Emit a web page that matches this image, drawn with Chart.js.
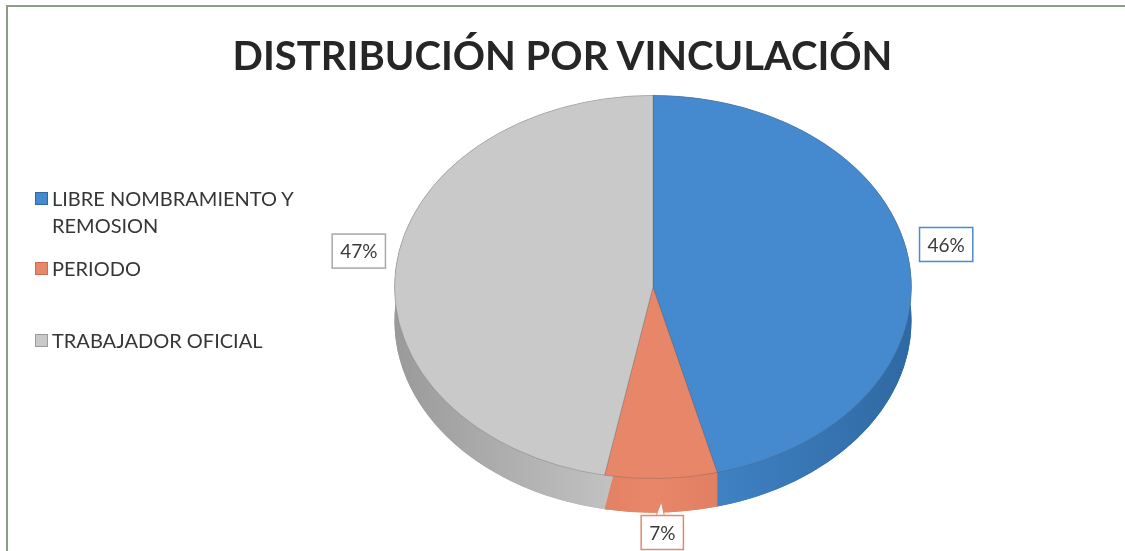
<!DOCTYPE html>
<html>
<head>
<meta charset="utf-8">
<script src="https://cdn.jsdelivr.net/npm/chart.js@4.4.1/dist/chart.umd.min.js"></script>
<style>
    body { margin: 0; background: #fff; }
    #wrap { position: relative; width: 1125px; height: 551px; overflow: hidden; background: #fff; }
    #frame { position: absolute; left: 6px; top: 5px; width: 1200px; height: 600px;
             border-top: 2px solid #909d86; border-left: 2px solid #909d86; }
    #title { position: absolute; left: 0; width: 1125px; top: 31px; text-align: center;
             font-family: Lato, sans-serif; font-weight: bold; font-size: 40px; color: #262626; }
    .legend-item { position: absolute; left: 35px; font-family: Lato, sans-serif; font-size: 20px;
                   color: #363636; line-height: 27px; }
    .legend-item .sw { position: absolute; left: 0; top: 7px; width: 13px; height: 13px; box-sizing: border-box; }
    .legend-item .txt { margin-left: 17px; width: 300px; }
    #chartBox { position: absolute; left: 0; top: 0; width: 1125px; height: 551px; }
</style>
</head>
<body>
<div id="wrap">
    <div id="frame"></div>
    <div id="chartBox"><canvas id="vinculacionChart"></canvas></div>
    <div id="title">DISTRIBUCIÓN POR VINCULACIÓN</div>
    <div id="legend"></div>
</div>
<script>
const categories = ['LIBRE NOMBRAMIENTO Y REMOSION', 'PERIODO', 'TRABAJADOR OFICIAL'];
const legendLines = [['LIBRE NOMBRAMIENTO Y', 'REMOSION'], ['PERIODO'], ['TRABAJADOR OFICIAL']];
const values = [46, 7, 47];
const percentLabels = ['46%', '7%', '47%'];
const topColors = ['#4589cf', '#e8866a', '#c9c9c9'];
const sideColors = ['#2f69a3', '#cf6c50', '#9a9a9a'];
const labelBorders = ['#4a8bd0', '#e08a6f', '#a8a8a8'];

// legend (html so the first label can wrap like the original)
const legendTops = [185, 255, 327];
const legendEl = document.getElementById('legend');
categories.forEach((cat, i) => {
    const item = document.createElement('div');
    item.className = 'legend-item';
    item.style.top = legendTops[i] + 'px';
    item.innerHTML = '<div class="sw" style="background:' + topColors[i] + ';border:1px solid ' + sideColors[i] + '"></div>' +
        '<div class="txt">' + legendLines[i].join('<br>') + '</div>';
    item.title = cat;
    legendEl.appendChild(item);
});

const TILT = 192 / 259;   // vertical squash of the pie
const DEPTH = 34;         // thickness of the pie side in px
const LABEL_LIFT = 16;    // labels sit a bit above the ellipse centre

const pie3d = {
    id: 'pie3d',
    beforeDatasetsDraw(chart) {
        const ctx = chart.ctx;
        const arcs = chart.getDatasetMeta(0).data;
        if (!arcs.length) return;
        const cx = arcs[0].x, cy = arcs[0].y, r = arcs[0].outerRadius;
        ctx.save();
        ctx.translate(cx, cy);
        ctx.scale(1, TILT);
        ctx.translate(-cx, -cy);
        const d = DEPTH / TILT;
        // side walls
        arcs.forEach((arc, i) => {
            const grad = ctx.createLinearGradient(cx - r, 0, cx + r, 0);
            grad.addColorStop(0, sideColors[i]);
            grad.addColorStop(0.5, topColors[i]);
            grad.addColorStop(1, sideColors[i]);
            ctx.fillStyle = grad;
            ctx.beginPath();
            ctx.moveTo(cx, cy + d);
            ctx.arc(cx, cy + d, r, arc.startAngle, arc.endAngle);
            ctx.closePath();
            ctx.fill();
            ctx.beginPath();
            ctx.arc(cx, cy, r, arc.startAngle, arc.endAngle);
            ctx.arc(cx, cy + d, r, arc.endAngle, arc.startAngle, true);
            ctx.closePath();
            ctx.fill();
        });
    },
    afterDatasetsDraw(chart) {
        const ctx = chart.ctx;
        ctx.restore();
        const arcs = chart.getDatasetMeta(0).data;
        ctx.save();
        ctx.font = '19px Lato, sans-serif';
        ctx.textAlign = 'center';
        ctx.textBaseline = 'middle';
        arcs.forEach((arc, i) => {
            const mid = (arc.startAngle + arc.endAngle) / 2;
            const cs = Math.cos(mid), sn = Math.sin(mid);
            const ry = arc.outerRadius * TILT;
            const x = arc.x + cs * (arc.outerRadius + 37);
            let y = arc.y + sn * (ry + 20) + Math.max(0, sn) * DEPTH;
            if (Math.abs(sn) < 0.5) y -= LABEL_LIFT;
            const w = ctx.measureText(percentLabels[i]).width + 16;
            const h = 34;
            if (sn > 0.9) {
                // small callout toward the slice
                ctx.fillStyle = '#fff';
                ctx.beginPath();
                ctx.moveTo(x - 6, y - h / 2);
                ctx.lineTo(x - 1, y - h / 2 - 14);
                ctx.lineTo(x + 2, y - h / 2);
                ctx.closePath();
                ctx.fill();
                ctx.strokeStyle = labelBorders[i];
                ctx.lineWidth = 1;
                ctx.stroke();
            }
            ctx.fillStyle = '#fff';
            ctx.fillRect(x - w / 2, y - h / 2, w, h);
            ctx.strokeStyle = labelBorders[i];
            ctx.lineWidth = 1.5;
            ctx.strokeRect(x - w / 2, y - h / 2, w, h);
            ctx.fillStyle = '#3a3a3a';
            ctx.fillText(percentLabels[i], x, y + 1);
        });
        ctx.restore();
    }
};

const ctx = document.getElementById('vinculacionChart').getContext('2d');
new Chart(ctx, {
    type: 'pie',
    data: {
        labels: categories,
        datasets: [{
            data: values,
            backgroundColor: topColors,
            borderColor: 'rgba(90, 90, 90, 0.35)',
            borderWidth: 1,
            hoverOffset: 0
        }]
    },
    options: {
        responsive: true,
        maintainAspectRatio: false,
        animation: false,
        layout: {
            padding: { left: 394, right: 213, top: 28, bottom: 5 }
        },
        plugins: {
            legend: { display: false },
            tooltip: { enabled: false }
        }
    },
    plugins: [pie3d]
});
</script>
</body>
</html>
